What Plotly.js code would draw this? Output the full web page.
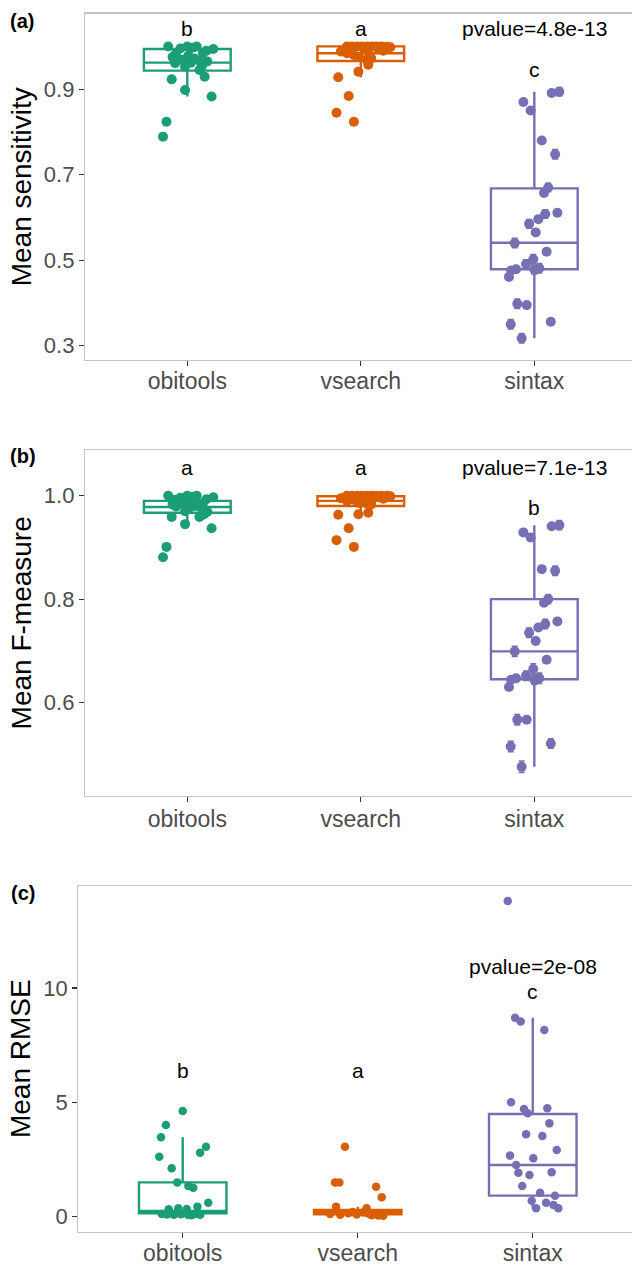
<!DOCTYPE html>
<html>
<head>
<meta charset="utf-8">
<script src="https://cdn.plot.ly/plotly-3.0.1.min.js"></script>
<style>
html,body{margin:0;padding:0;background:#fff;}
#chart{width:632px;height:1267px;}
</style>
</head>
<body>
<div id="chart"></div>
<script>
// ---------- categories & colours ----------
const categories = ["obitools", "vsearch", "sintax"];
const colors = ["#1b9e77", "#d95f02", "#7570b3"];

// ---------- jitter offsets (category units) ----------
const jitObitoolsAB = [-0.11, 0.0, 0.054, 0.15, -0.065, 0.006, 0.09, -0.03, 0.02, 0.115, 0.073, -0.07, -0.013, 0.07, 0.10, -0.09, -0.013, 0.14, -0.12, -0.14, -0.04, 0.03, 0.11, -0.085, 0.04, 0.085];
const jitVsearchAB = [-0.08, -0.05, -0.02, 0.007, 0.036, 0.065, 0.09, 0.12, 0.15, 0.17, -0.115, -0.08, -0.04, 0.034, 0.053, 0.043, -0.014, -0.13, -0.07, -0.14, -0.04, 0.1, 0.13, -0.01, 0.06, 0.02];
const jitSintaxAB = [0.10, 0.144, -0.063, -0.021, 0.043, 0.12, 0.08, 0.056, 0.133, 0.063, 0.023, -0.03, 0.008, -0.113, 0.071, -0.006, -0.048, 0.029, -0.105, -0.134, -0.146, 0.0, -0.098, -0.044, -0.136, 0.095, -0.073];

// ---------- (a) Mean sensitivity ----------
const sensObitools = [1.0, 1.0, 1.0, 0.994, 0.984, 0.978, 0.984, 0.969, 0.962, 0.965, 0.965, 0.961, 0.953, 0.945, 0.929, 0.923, 0.898, 0.883, 0.824, 0.789, 0.995, 0.997, 0.99, 0.975, 0.972, 0.955];
const sensVsearch = [1.0, 1.0, 1.0, 1.0, 1.0, 1.0, 1.0, 1.0, 0.999, 0.998, 0.988, 0.984, 0.98, 0.969, 0.978, 0.957, 0.941, 0.928, 0.884, 0.845, 0.824, 0.995, 0.99, 0.975, 0.972, 0.993];
const sensSintax = [0.891, 0.894, 0.870, 0.850, 0.780, 0.748, 0.670, 0.657, 0.611, 0.608, 0.596, 0.585, 0.565, 0.540, 0.520, 0.502, 0.491, 0.481, 0.479, 0.476, 0.461, 0.478, 0.398, 0.395, 0.350, 0.356, 0.3175];
const sensSeSintax = [0.004, 0.010, 0.004, 0.004, 0.004, 0.011, 0.010, 0.004, 0.004, 0.010, 0.004, 0.010, 0.004, 0.011, 0.004, 0.011, 0.010, 0.011, 0.004, 0.004, 0.004, 0.010, 0.011, 0.004, 0.011, 0.004, 0.011];
// box summaries (q1, median, q3, lower whisker, upper whisker) per category
const sensQ1 = [0.9435, 0.966, 0.479];
const sensMedian = [0.962, 0.984, 0.541];
const sensQ3 = [0.994, 1.0, 0.668];
const sensLow = [0.883, 0.928, 0.3175];
const sensHigh = [1.0, 1.0, 0.894];

// ---------- (b) Mean F-measure ----------
const fmObitools = [1.0, 1.0, 1.0, 0.997, 0.979, 0.974, 0.985, 0.985, 0.985, 0.969, 0.978, 0.992, 0.97, 0.959, 0.965, 0.959, 0.945, 0.937, 0.901, 0.881, 0.996, 0.998, 0.993, 0.983, 0.98, 0.962];
const fmVsearch = [1.0, 1.0, 1.0, 1.0, 1.0, 1.0, 1.0, 1.0, 1.0, 0.999, 0.995, 0.99, 0.992, 0.985, 0.988, 0.967, 0.964, 0.963, 0.937, 0.914, 0.901, 0.997, 0.994, 0.986, 0.983, 0.996];
const fmSintax = [0.941, 0.943, 0.929, 0.919, 0.858, 0.855, 0.800, 0.793, 0.757, 0.752, 0.745, 0.735, 0.719, 0.699, 0.683, 0.665, 0.652, 0.647, 0.647, 0.644, 0.630, 0.644, 0.567, 0.567, 0.515, 0.521, 0.476];
const fmSeSintax = [0.004, 0.009, 0.004, 0.004, 0.004, 0.009, 0.009, 0.004, 0.004, 0.009, 0.004, 0.009, 0.004, 0.010, 0.004, 0.010, 0.009, 0.010, 0.004, 0.004, 0.004, 0.009, 0.010, 0.004, 0.010, 0.009, 0.011];
const fmQ1 = [0.967, 0.980, 0.645];
const fmMedian = [0.978, 0.990, 0.699];
const fmQ3 = [0.990, 0.999, 0.800];
const fmLow = [0.937, 0.963, 0.476];
const fmHigh = [1.0, 1.0, 0.943];

// ---------- (c) Mean RMSE ----------
const jitObitoolsC = [0.0, -0.096, -0.124, 0.133, 0.099, -0.134, -0.063, -0.031, 0.032, 0.06, 0.146, -0.08, -0.025, 0.023, 0.084, -0.12, -0.09, -0.05, -0.01, 0.03, 0.07, 0.10, -0.07, 0.05];
const rmseObitools = [4.62, 4.01, 3.47, 3.06, 2.80, 2.62, 2.12, 1.50, 1.34, 1.27, 0.61, 0.32, 0.37, 0.34, 0.44, 0.12, 0.10, 0.08, 0.11, 0.09, 0.12, 0.08, 0.15, 0.06];
const jitVsearchC = [-0.073, -0.13, -0.105, 0.105, 0.137, -0.124, 0.051, -0.158, -0.10, -0.054, -0.006, 0.032, 0.08, 0.118, 0.146, -0.03, 0.06];
const rmseVsearch = [3.06, 1.50, 1.49, 1.31, 0.85, 0.44, 0.37, 0.12, 0.08, 0.15, 0.10, 0.18, 0.06, 0.05, 0.04, 0.20, 0.14];
const jitSintaxC = [-0.143, -0.101, -0.069, 0.066, -0.124, -0.05, -0.029, 0.083, 0.095, -0.038, 0.055, 0.137, -0.13, 0.003, -0.095, -0.082, -0.019, 0.108, -0.06, 0.042, 0.127, -0.006, 0.076, 0.019, 0.118, 0.146];
const rmseSintax = [13.80, 8.70, 8.53, 8.16, 5.00, 4.71, 4.52, 4.74, 4.08, 3.60, 3.53, 2.92, 2.67, 2.55, 2.26, 1.92, 1.82, 1.94, 1.34, 1.05, 0.92, 0.70, 0.61, 0.37, 0.51, 0.37];
const rmseQ1 = [0.15, 0.10, 0.92];
const rmseMedian = [0.25, 0.19, 2.26];
const rmseQ3 = [1.50, 0.29, 4.49];
const rmseLow = [0.05, 0.04, 0.37];
const rmseHigh = [3.47, 0.44, 8.70];

// ---------- annotations (letters / p-values) ----------
const lettersA = ["b", "a", "c"];
const lettersB = ["a", "a", "b"];
const lettersC = ["b", "a", "c"];
const letterYA = [1.042, 1.042, 0.9466];
const letterYB = [1.055, 1.055, 0.977];
const letterYC = [6.41, 6.41, 9.84];
const pvalA = "pvalue=4.8e-13", pvalYA = 1.042;
const pvalB = "pvalue=7.1e-13", pvalYB = 1.055;
const pvalC = "pvalue=2e-08", pvalYC = 10.95;
const yTitles = ["Mean sensitivity", "Mean F-measure", "Mean RMSE"];
const panelLabels = ["(a)", "(b)", "(c)"];

// ---------- build traces ----------
const FONT = "Liberation Sans, Arial, Helvetica, sans-serif";
const traces = [];
function addPanel(ax, q1, med, q3, lo, hi, groups, msize) {
  const xa = "x" + ax, ya = "y" + ax;
  for (let g = 0; g < 3; g++) {
    traces.push({
      type: "box", x: [g + 1], q1: [q1[g]], median: [med[g]], q3: [q3[g]],
      lowerfence: [lo[g]], upperfence: [hi[g]], width: 0.5, boxpoints: false,
      whiskerwidth: 0, line: {color: colors[g], width: 2.4},
      fillcolor: "rgba(255,255,255,0)", xaxis: xa, yaxis: ya,
      hoverinfo: "skip", showlegend: false
    });
  }
  groups.forEach((gr, g) => {
    const t = {
      type: "scatter", mode: "markers",
      x: gr.jit.map(j => g + 1 + j), y: gr.vals,
      marker: {color: colors[g], size: msize, line: {width: 0}},
      xaxis: xa, yaxis: ya, showlegend: false, hoverinfo: "skip"
    };
    if (gr.se) t.error_y = {type: "data", array: gr.se, color: colors[g], thickness: 1.6, width: 3};
    traces.push(t);
  });
}
const smallSe = n => new Array(n).fill(0.003);
addPanel("", sensQ1, sensMedian, sensQ3, sensLow, sensHigh, [
  {jit: jitObitoolsAB, vals: sensObitools, se: smallSe(sensObitools.length)},
  {jit: jitVsearchAB, vals: sensVsearch, se: smallSe(sensVsearch.length)},
  {jit: jitSintaxAB, vals: sensSintax, se: sensSeSintax}], 10);
addPanel("2", fmQ1, fmMedian, fmQ3, fmLow, fmHigh, [
  {jit: jitObitoolsAB, vals: fmObitools, se: smallSe(fmObitools.length)},
  {jit: jitVsearchAB, vals: fmVsearch, se: smallSe(fmVsearch.length)},
  {jit: jitSintaxAB, vals: fmSintax, se: fmSeSintax}], 10);
addPanel("3", rmseQ1, rmseMedian, rmseQ3, rmseLow, rmseHigh, [
  {jit: jitObitoolsC, vals: rmseObitools},
  {jit: jitVsearchC, vals: rmseVsearch},
  {jit: jitSintaxC, vals: rmseSintax}], 8.5);

// ---------- axes ----------
const W = 632, H = 1267;
function xAxis(anchor, left, range, standoff) {
  return {
    domain: [left / W, 1], range: range, anchor: anchor,
    tickvals: [1, 2, 3], ticktext: categories,
    ticks: "outside", ticklen: 5, tickwidth: 1.2, tickcolor: "#333333",
    tickfont: {family: FONT, size: 23, color: "#4d4d4d"}, ticklabelstandoff: standoff,
    showline: true, mirror: true, linecolor: "#c4c4c4", linewidth: 1.2,
    showgrid: false, zeroline: false, fixedrange: true
  };
}
function yAxis(anchor, top, bottom, range, tickvals, fmt, title) {
  return {
    domain: [1 - bottom / H, 1 - top / H], range: range, anchor: anchor,
    tickvals: tickvals, tickformat: fmt,
    ticks: "outside", ticklen: 5, tickwidth: 1.2, tickcolor: "#333333",
    tickfont: {family: FONT, size: 22, color: "#4d4d4d"},
    showline: true, linecolor: "#c4c4c4", linewidth: 1.2,
    showgrid: false, zeroline: false, fixedrange: true,
    title: {text: title, font: {family: FONT, size: 28, color: "#000"}, standoff: 4}
  };
}

const annotations = [];
function addLetters(ax, letters, ys, pv, pvy) {
  const xr = "x" + ax, yr = "y" + ax;
  letters.forEach((l, g) => annotations.push({
    xref: xr, yref: yr, x: g + 1, y: ys[g], text: l, showarrow: false,
    font: {family: FONT, size: 21, color: "#000"}, xanchor: "center", yanchor: "middle"
  }));
  annotations.push({
    xref: xr, yref: yr, x: 3, y: pvy, text: pv, showarrow: false,
    font: {family: FONT, size: 21, color: "#000"}, xanchor: "center", yanchor: "middle"
  });
}
addLetters("", lettersA, letterYA, pvalA, pvalYA);
addLetters("2", lettersB, letterYB, pvalB, pvalYB);
addLetters("3", lettersC, letterYC, pvalC, pvalYC);
const panelLabelPos = [[22, 21], [23, 456.5], [23, 893]];
panelLabels.forEach((t, i) => annotations.push({
  xref: "paper", yref: "paper", x: panelLabelPos[i][0] / W, y: 1 - panelLabelPos[i][1] / H,
  text: "<b>" + t + "</b>", showarrow: false, xanchor: "center", yanchor: "middle",
  font: {family: FONT, size: 20, color: "#000"}
}));

const layout = {
  width: W, height: H, margin: {l: 0, r: 0, t: 0, b: 0},
  paper_bgcolor: "#ffffff", plot_bgcolor: "#ffffff", showlegend: false,
  xaxis: xAxis("y", 85, [0.4104, 3.563], -5),
  xaxis2: xAxis("y2", 85, [0.4104, 3.563], -3),
  xaxis3: xAxis("y3", 78.3, [0.4034, 3.567], -5),
  yaxis: yAxis("x", 13.5, 360, [0.2666, 1.077], [0.3, 0.5, 0.7, 0.9], ".1f", yTitles[0]),
  yaxis2: yAxis("x2", 450, 795.7, [0.42, 1.0883], [0.6, 0.8, 1.0], ".1f", yTitles[1]),
  yaxis3: yAxis("x3", 885.7, 1231.7, [-0.656, 14.47], [0, 5, 10], "d", yTitles[2]),
  annotations: annotations
};

Plotly.newPlot("chart", traces, layout, {staticPlot: true, displayModeBar: false});
</script>
</body>
</html>
